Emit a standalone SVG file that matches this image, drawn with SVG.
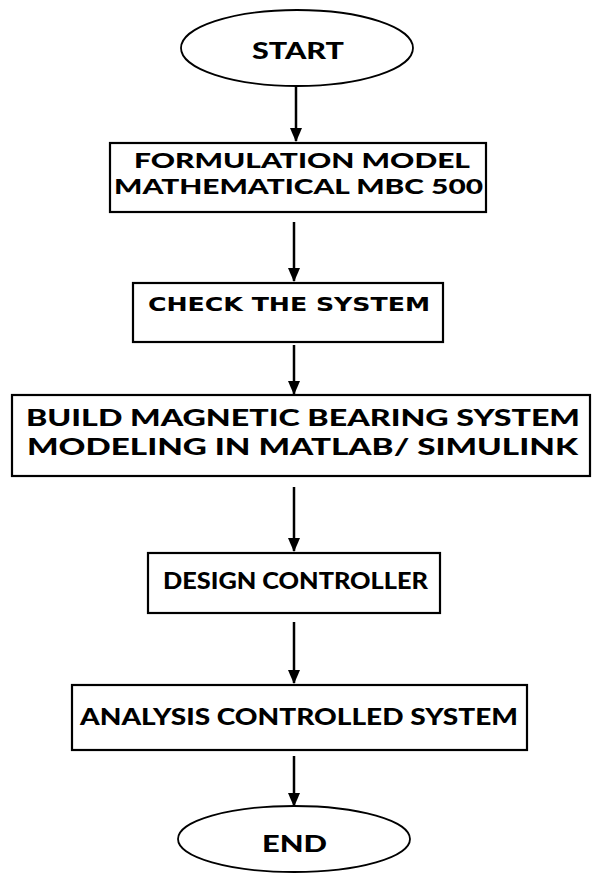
<svg xmlns="http://www.w3.org/2000/svg" width="592" height="880" viewBox="0 0 592 880">
<style>
.box{fill:#fff;stroke:#000;stroke-width:2.2}
.term{fill:#fff;stroke:#000;stroke-width:1.8}
.t{font-family:Lato,"Open Sans","Liberation Sans",sans-serif;font-weight:900;fill:#000}
.v{font-family:"DejaVu Sans",Verdana,sans-serif;font-weight:bold;fill:#000}
.c{stroke:#000;stroke-width:2.5;fill:none;marker-end:url(#ah)}
</style>
<defs>
<marker id="ah" viewBox="0 0 14 12" refX="13" refY="6" markerWidth="14" markerHeight="12" markerUnits="userSpaceOnUse" orient="auto">
<path d="M0,0 L14,6 L0,12 Z" fill="#000"/>
</marker>
</defs>
<rect width="592" height="880" fill="#fff"/>
<g id="connectors">
<line class="c" x1="296" y1="86" x2="296" y2="141"/>
<line class="c" x1="294" y1="222" x2="294" y2="281"/>
<line class="c" x1="294" y1="345" x2="294" y2="394"/>
<line class="c" x1="294" y1="487" x2="294" y2="551"/>
<line class="c" x1="294" y1="622" x2="294" y2="683"/>
<line class="c" x1="294" y1="756" x2="294" y2="806"/>
</g>
<g id="start">
<ellipse class="term" cx="297" cy="48" rx="116" ry="38"/>
<text class="t" x="252" y="59" font-size="22" textLength="92" lengthAdjust="spacingAndGlyphs">START</text>
</g>
<g id="formulation">
<rect class="box" x="110" y="143" width="376" height="69"/>
<text class="t" x="134" y="168" font-size="20" textLength="336" lengthAdjust="spacingAndGlyphs">FORMULATION MODEL</text>
<text class="t" x="114" y="194" font-size="20" textLength="369" lengthAdjust="spacingAndGlyphs">MATHEMATICAL MBC 500</text>
</g>
<g id="check">
<rect class="box" x="133" y="283" width="310" height="59"/>
<text class="v" x="148" y="311" font-size="20" textLength="282" lengthAdjust="spacingAndGlyphs">CHECK THE SYSTEM</text>
</g>
<g id="build">
<rect class="box" x="12" y="395" width="578" height="81"/>
<text class="t" x="26" y="426" font-size="22" textLength="554" lengthAdjust="spacingAndGlyphs">BUILD MAGNETIC BEARING SYSTEM</text>
<text class="t" x="27" y="455" font-size="22" textLength="551" lengthAdjust="spacingAndGlyphs">MODELING  IN MATLAB/ SIMULINK</text>
</g>
<g id="design">
<rect class="box" x="148" y="553" width="292" height="60"/>
<text class="t" x="163" y="589" font-size="22" textLength="265" lengthAdjust="spacingAndGlyphs">DESIGN CONTROLLER</text>
</g>
<g id="analysis">
<rect class="box" x="72" y="685" width="455" height="65"/>
<text class="t" x="80" y="725" font-size="22" textLength="438" lengthAdjust="spacingAndGlyphs">ANALYSIS CONTROLLED SYSTEM</text>
</g>
<g id="end">
<ellipse class="term" cx="294" cy="839" rx="116" ry="33"/>
<text class="t" x="262" y="852" font-size="22" textLength="65" lengthAdjust="spacingAndGlyphs">END</text>
</g>
</svg>
